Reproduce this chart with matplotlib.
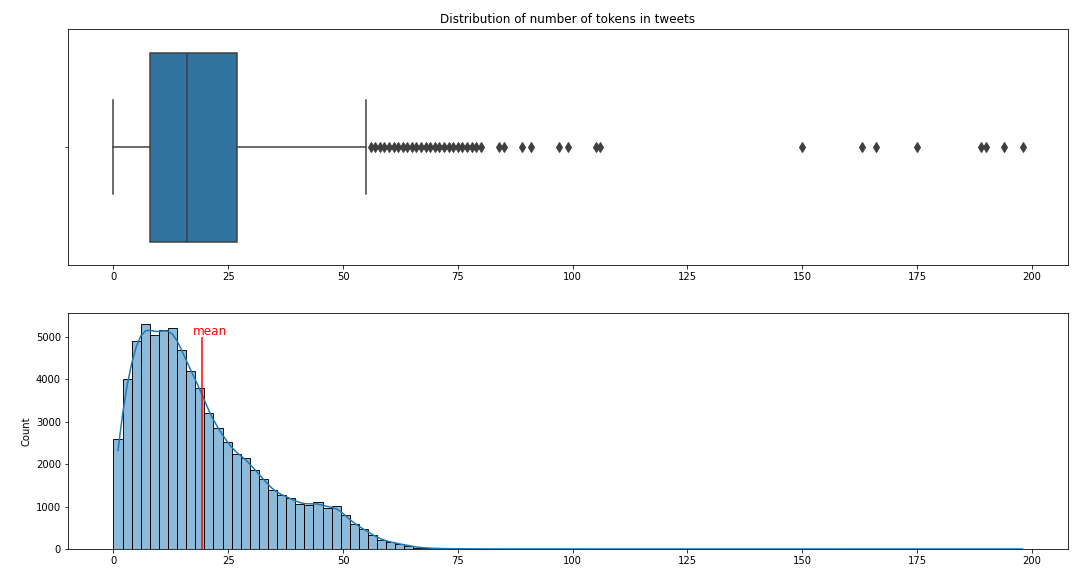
import matplotlib
matplotlib.use('agg')

import numpy as np
import matplotlib.pyplot as plt
import seaborn as sns

# histogram: 100 bins over 0..198 tokens, counts of the first 41 bins
bin_count = 100
token_range = (0, 198)
hist_counts = [2580, 4000, 4900, 5300, 5050, 5150, 5200, 4680, 4190, 3800,
               3200, 2840, 2520, 2240, 2150, 1870, 1650, 1380, 1270, 1190,
               1070, 1045, 1100, 965, 1010, 790, 585, 475, 330, 215,
               160, 118, 80, 35, 22, 14, 9, 6, 4, 3, 2]
# single tweets far out in the tail
far_tokens = [84, 85, 89, 91, 97, 99, 105, 106, 150, 163, 166, 175, 189, 190, 194, 198]

# boxplot summary
box_q1 = 8
box_median = 16
box_q3 = 27
whisker_low = 0
whisker_high = 55
fliers = [56, 57, 58, 59, 60, 61, 62, 63, 64, 65, 66, 67, 68, 69, 70, 71, 72,
          73, 74, 75, 76, 77, 78, 79, 80] + far_tokens

mean_tokens = 19.2

# rebuild a token sample from the binned counts
edges = np.linspace(token_range[0], token_range[1], bin_count + 1)
centers = (edges[:-1] + edges[1:]) / 2
tokens = np.concatenate([np.repeat(centers[:len(hist_counts)], hist_counts),
                         np.array(far_tokens, dtype=float)])

fig, (ax1, ax2) = plt.subplots(2, 1, figsize=(1073 / 72, 572 / 72), dpi=72)
fig.subplots_adjust(left=68 / 1073, right=1068 / 1073, top=1 - 29 / 572,
                    bottom=1 - 549 / 572, hspace=0.2)

# boxplot (seaborn look)
gray = '#3f3f3f'
stats = [{'med': box_median, 'q1': box_q1, 'q3': box_q3,
          'whislo': whisker_low, 'whishi': whisker_high, 'fliers': fliers}]
ax1.bxp(stats, positions=[0], widths=0.8, orientation='horizontal', patch_artist=True,
        boxprops=dict(facecolor='#3274a1', edgecolor=gray, linewidth=1.5),
        medianprops=dict(color=gray, linewidth=1.5),
        whiskerprops=dict(color=gray, linewidth=1.5),
        capprops=dict(color=gray, linewidth=1.5),
        flierprops=dict(marker='d', markersize=6.5, markerfacecolor=gray,
                        markeredgecolor=gray, linestyle='none'))
ax1.set_ylim(0.5, -0.5)
ax1.set_yticks([0])
ax1.set_yticklabels([''])
ax1.set_xlim(-9.9, 207.9)
ax1.set_xticks(np.arange(0, 201, 25))
ax1.set_title('Distribution of number of tokens in tweets')

# histogram with kde
sns.histplot(x=tokens, bins=bin_count, binrange=token_range, kde=True, ax=ax2)
ax2.vlines(mean_tokens, 0, 5000, color='red')
ax2.text(mean_tokens - 1.8, 5050, 'mean', color='red', fontsize=12)
ax2.set_xlim(-9.9, 207.9)
ax2.set_xticks(np.arange(0, 201, 25))

plt.savefig('out.png', dpi=72)
